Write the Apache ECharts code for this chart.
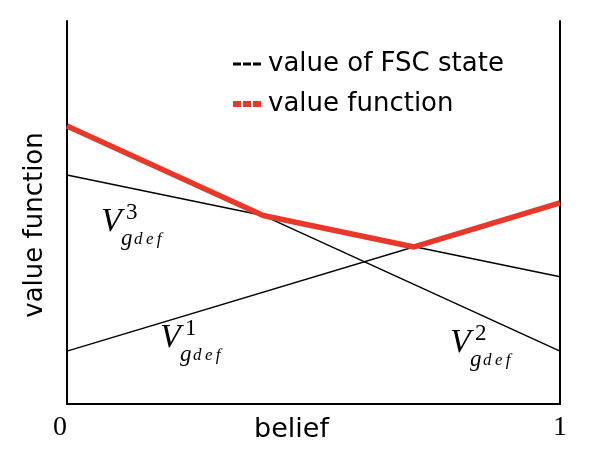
<!DOCTYPE html>
<html>
<head>
<meta charset="UTF-8">
<title>value function</title>
<script src="https://cdn.jsdelivr.net/npm/echarts@6/dist/echarts.min.js"></script>
<style>
  html, body { margin: 0; padding: 0; background: #fff; }
  #chart { width: 594px; height: 458px; }
</style>
</head>
<body>
<div id="chart"></div>
<script>
// belief axis ends
const beliefs = [0, 1];
// value of each FSC state (alpha vectors) at belief 0 and 1
const fsc1 = [0.138, 0.525];
const fsc2 = [0.726, 0.138];
const fsc3 = [0.598, 0.332];
// upper envelope (value function)
const envX = [0, 0.398, 0.704, 1];
const envY = [0.726, 0.492, 0.410, 0.525];
const tickLabels = ['0', '1'];

const sans = '"DejaVu Sans", sans-serif';
const serif = '"Liberation Serif", serif';
const red = '#e8382a';

const chart = echarts.init(document.getElementById('chart'));

function pairs(xs, ys) {
  return xs.map((x, i) => [x, ys[i]]);
}

function fscSeries(vals) {
  return {
    name: 'value of FSC state',
    type: 'line',
    data: pairs(beliefs, vals),
    symbol: 'none',
    lineStyle: { color: '#000', width: 1.5 },
    itemStyle: { color: '#000' },
    z: 2,
    silent: true
  };
}

// V^k_{g_def} label as a small group of texts
function vLabel(x, y, k) {
  return {
    type: 'group',
    children: [
      { type: 'text', style: { text: 'V', x: x, y: y, fontSize: 34, fontStyle: 'italic', fontFamily: serif, fill: '#000', verticalAlign: 'middle' } },
      { type: 'text', style: { text: k, x: x + 25, y: y - 9, fontSize: 23, fontFamily: serif, fill: '#000', verticalAlign: 'middle' } },
      { type: 'text', style: { text: 'g', x: x + 20, y: y + 17, fontSize: 23, fontStyle: 'italic', fontFamily: serif, fill: '#000', verticalAlign: 'middle' } },
      { type: 'text', style: { text: 'd\u2009e\u2009f', x: x + 33, y: y + 18, fontSize: 17, fontStyle: 'italic', fontFamily: serif, fill: '#000', verticalAlign: 'middle' } }
    ]
  };
}

const option = {
  animation: false,
  grid: { left: 67, right: 34, top: 21, bottom: 54, outerBoundsMode: 'none' },
  legend: {
    orient: 'vertical',
    left: 225,
    top: 46,
    itemWidth: 30,
    itemHeight: 14,
    itemGap: 14,
    textStyle: { fontSize: 26, fontFamily: sans, color: '#000' },
    data: [
      { name: 'value of FSC state', lineStyle: { type: [8, 2], width: 3, color: '#000' }, itemStyle: { opacity: 0 } },
      { name: 'value function', lineStyle: { type: [8, 2], width: 6, color: red }, itemStyle: { opacity: 0 } }
    ]
  },
  xAxis: {
    type: 'value',
    min: 0,
    max: 1,
    interval: 1,
    name: 'belief',
    nameLocation: 'middle',
    nameGap: 12,
    nameMoveOverlap: false,
    nameTextStyle: { fontSize: 27, fontFamily: sans, color: '#000', verticalAlign: 'top', padding: [0, 44, 0, 0] },
    axisLine: { show: true, lineStyle: { color: '#000', width: 2 } },
    axisTick: { show: false },
    splitLine: { show: false },
    axisLabel: {
      margin: 10,
      fontSize: 28,
      fontFamily: serif,
      color: '#000',
      alignMinLabel: 'right',
      formatter: v => tickLabels[Math.round(v)]
    }
  },
  yAxis: [{
    type: 'value',
    min: 0,
    max: 1,
    name: 'value function',
    nameLocation: 'middle',
    nameGap: 19,
    nameRotate: 90,
    nameMoveOverlap: false,
    nameTextStyle: { fontSize: 26, fontFamily: sans, color: '#000', padding: [0, 25, 0, 0] },
    axisLine: { show: true, lineStyle: { color: '#000', width: 2 } },
    axisTick: { show: false },
    axisLabel: { show: false },
    splitLine: { show: false }
  }, {
    type: 'value',
    min: 0,
    max: 1,
    position: 'right',
    axisLine: { show: true, lineStyle: { color: '#000', width: 2 } },
    axisTick: { show: false },
    axisLabel: { show: false },
    splitLine: { show: false }
  }],
  series: [
    fscSeries(fsc1),
    fscSeries(fsc2),
    fscSeries(fsc3),
    {
      name: 'value function',
      type: 'line',
      data: pairs(envX, envY),
      symbol: 'none',
      lineStyle: { color: red, width: 5.5 },
      itemStyle: { color: red },
      z: 3,
      silent: true
    }
  ],
  graphic: [
    vLabel(101, 222, '3'),
    vLabel(160, 338, '1'),
    vLabel(450, 343, '2')
  ]
};

chart.setOption(option);
</script>
</body>
</html>
